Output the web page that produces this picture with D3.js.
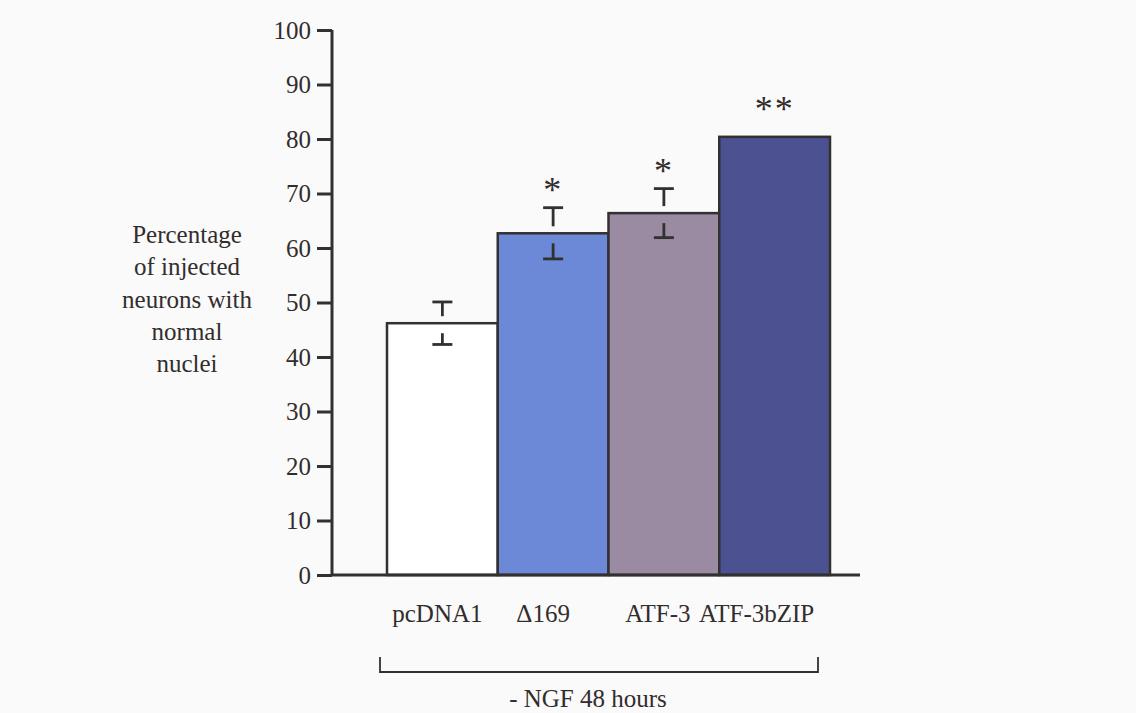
<!DOCTYPE html>
<html>
<head>
<meta charset="utf-8">
<script src="https://cdn.jsdelivr.net/npm/d3@7/dist/d3.min.js"></script>
<style>
  html, body { margin: 0; padding: 0; background: #fafafa; }
  svg { display: block; }
  text { font-family: "Liberation Serif", "DejaVu Serif", serif; fill: #332d2d; }
</style>
</head>
<body>
<svg id="chart" width="1136" height="713"></svg>
<script>
// Survival of injected neurons after 48 h NGF withdrawal
const categories = ["pcDNA1", "\u0394169", "ATF-3", "ATF-3bZIP"];
const percentNormal = [46.2, 62.7, 66.4, 80.4];
const errorSE = [3.9, 4.7, 4.5, 0];
const significance = ["", "*", "*", "**"];
const barColors = ["#ffffff", "#6b89d6", "#9a8ba3", "#4c5192"];
const yTicks = [0, 10, 20, 30, 40, 50, 60, 70, 80, 90, 100];
const yTitleLines = ["Percentage", "of injected", "neurons with", "normal", "nuclei"];
const conditionLabel = "- NGF 48 hours";

const svg = d3.select("#chart");
const ink = "#333030";

const y = d3.scaleLinear().domain([0, 100]).range([575, 30]);
const x = d3.scaleBand().domain(categories).range([387, 830]).padding(0);

// bars
svg.append("g").selectAll("rect")
  .data(categories)
  .join("rect")
  .attr("x", d => x(d))
  .attr("y", (d, i) => y(percentNormal[i]))
  .attr("width", x.bandwidth())
  .attr("height", (d, i) => y(0) - y(percentNormal[i]))
  .attr("fill", (d, i) => barColors[i])
  .attr("stroke", ink)
  .attr("stroke-width", 2.5);

// error bars: cap + stub above the bar top, stub + cap below it
const capW = 20;
const eb = svg.append("g").attr("stroke", ink).attr("stroke-width", 2.8).attr("fill", "none");
categories.forEach((c, i) => {
  if (!errorSE[i]) return;
  const cx = x(c) + x.bandwidth() / 2;
  const top = y(percentNormal[i] + errorSE[i]);
  const bot = y(percentNormal[i] - errorSE[i]);
  const mid = y(percentNormal[i]);
  eb.append("line").attr("x1", cx - capW / 2).attr("x2", cx + capW / 2).attr("y1", top).attr("y2", top);
  eb.append("line").attr("x1", cx).attr("x2", cx).attr("y1", top).attr("y2", mid - 7);
  eb.append("line").attr("x1", cx).attr("x2", cx).attr("y1", mid + 10).attr("y2", bot);
  eb.append("line").attr("x1", cx - capW / 2).attr("x2", cx + capW / 2).attr("y1", bot).attr("y2", bot);
});

// significance marks
svg.append("g").selectAll("text")
  .data(categories)
  .join("text")
  .attr("x", d => x(d) + x.bandwidth() / 2)
  .attr("y", (d, i) => y(percentNormal[i] + errorSE[i]) - (errorSE[i] ? 6 : 16))
  .attr("text-anchor", "middle")
  .attr("font-size", 36)
  .attr("letter-spacing", 2)
  .text((d, i) => significance[i]);

// y axis
const yAxis = d3.axisLeft(y).tickValues(yTicks).tickSize(15).tickPadding(6);
const yg = svg.append("g").attr("transform", "translate(332,0)").call(yAxis);
yg.select(".domain").attr("stroke", ink).attr("stroke-width", 3).attr("d", `M0,${y(100)}V${y(0)}`);
yg.selectAll(".tick line").attr("stroke", ink).attr("stroke-width", 3);
yg.selectAll(".tick text").attr("font-size", 25).attr("fill", "#332d2d")
  .attr("font-family", "Liberation Serif, serif");

// baseline
svg.append("line")
  .attr("x1", 332).attr("x2", 860)
  .attr("y1", y(0)).attr("y2", y(0))
  .attr("stroke", ink).attr("stroke-width", 3);

// category labels
const labelShift = [-5, -10, -6, -18];
svg.append("g").selectAll("text")
  .data(categories)
  .join("text")
  .attr("x", (d, i) => x(d) + x.bandwidth() / 2 + labelShift[i])
  .attr("y", 622)
  .attr("text-anchor", "middle")
  .attr("font-size", 25)
  .text(d => d);

// bracket grouping all conditions
const bx0 = 380, bx1 = 818, by = 672;
svg.append("path")
  .attr("d", `M${bx0},${by - 15}V${by}H${bx1}V${by - 15}`)
  .attr("fill", "none")
  .attr("stroke", ink)
  .attr("stroke-width", 1.8);

svg.append("text")
  .attr("x", 588).attr("y", 707)
  .attr("text-anchor", "middle")
  .attr("font-size", 25)
  .text(conditionLabel);

// y axis title
svg.append("g").selectAll("text")
  .data(yTitleLines)
  .join("text")
  .attr("x", 187)
  .attr("y", (d, i) => 243 + i * 32.3)
  .attr("text-anchor", "middle")
  .attr("font-size", 25)
  .text(d => d);
</script>
</body>
</html>
